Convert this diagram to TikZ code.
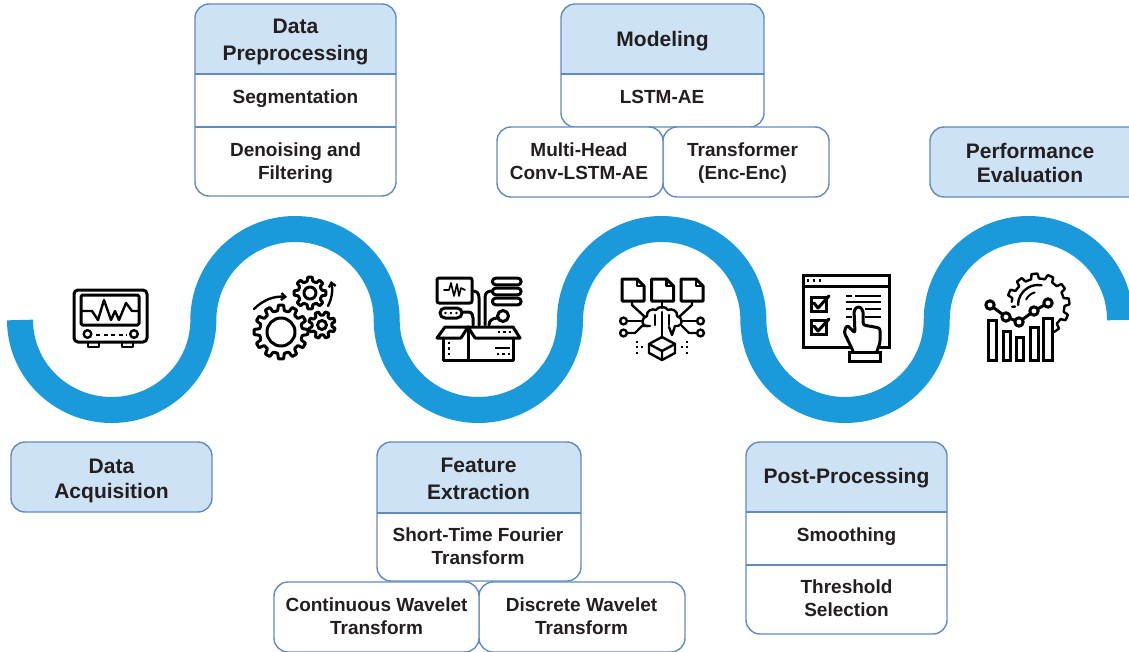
\documentclass[tikz,border=0pt]{standalone}
\usepackage{fontspec}
\usetikzlibrary{arrows.meta}
\setmainfont{Liberation Sans}
\definecolor{ribbon}{HTML}{1A9ADB}
\definecolor{headfill}{HTML}{CDE2F4}
\definecolor{edge}{HTML}{6289C4}
\definecolor{ink}{HTML}{231F20}
\newcommand{\card}[5]{%
  \path[fill=white,rounded corners=14] (#1,#2) rectangle (#3,#4);
  \begin{scope}
    \clip[rounded corners=14] (#1,#2) rectangle (#3,#4);
    \fill[headfill] (#1,#2) rectangle (#3,#5);
  \end{scope}
  \draw[edge,line width=1.4] (#1,#5) -- (#3,#5);
  \draw[edge,line width=1.4,rounded corners=14] (#1,#2) rectangle (#3,#4);
}
\newcommand{\gearshape}[6]{% x y outer root teeth offset
  \begin{scope}[shift={(#1,#2)}]
    \pgfmathsetmacro{\st}{360/#5}
    \draw[icon,fill=white,rounded corners=.6]
      ({#6-.30*\st}:#4)
      \foreach \k in {1,...,#5}{
        -- ({#6+(\k-1)*\st-.18*\st}:#3) -- ({#6+(\k-1)*\st+.18*\st}:#3)
        -- ({#6+(\k-1)*\st+.30*\st}:#4) -- ({#6+\k*\st-.30*\st}:#4)
      } -- cycle;
  \end{scope}
}
\tikzset{
  x=1pt,y=-1pt,
  every node/.style={inner sep=0pt,outer sep=0pt,align=center,text=ink,font=\bfseries},
  headtext/.style={font=\fontsize{21}{27}\selectfont\bfseries},
  subtext/.style={font=\fontsize{19}{23}\selectfont\bfseries},
  plainbox/.style={draw=edge,line width=1.4,fill=white,rounded corners=14},
  headbox/.style={plainbox,fill=headfill},
  band/.style={ribbon,line width=26},
  icon/.style={black,line width=3,line join=round,line cap=round},
  thin icon/.style={black,line width=2.4,line join=round,line cap=round},
  dotted icon/.style={black,line width=2.4,dash pattern=on 2.4 off 3},
}
\begin{document}
\begin{tikzpicture}
\useasboundingbox (0,0) rectangle (1129,652);
% ribbon
\begin{scope}
\clip (0,0) rectangle (1129,652);
\draw[band] (20,320) arc[start angle=180,end angle=0,x radius=91.67,y radius=90]
  arc[start angle=180,end angle=360,x radius=91.67,y radius=91]
  arc[start angle=180,end angle=0,x radius=91.67,y radius=90]
  arc[start angle=180,end angle=360,x radius=91.67,y radius=91]
  arc[start angle=180,end angle=0,x radius=91.67,y radius=90]
  arc[start angle=180,end angle=360,x radius=91.67,y radius=91];
\end{scope}

% Data Preprocessing
\card{195}{4}{396}{196}{74}
\draw[edge,line width=1.4] (195,127) -- (396,127);
\node[headtext] (dp) at (295.5,42.5) {Data\\Preprocessing};
\node[subtext] (seg) at (295.5,99) {Segmentation};
\node[subtext] (den) at (295.5,163) {Denoising and\\Filtering};

% Modeling
\card{561}{4}{764}{127}{74}
\node[headtext] (mod) at (662.5,41) {Modeling};
\node[subtext] (lstm) at (662,97) {LSTM-AE};
\path[plainbox] (663,127) rectangle (829,197);
\path[plainbox] (497,127) rectangle (663,197);
\node[subtext] (mh) at (579,161) {Multi-Head\\Conv-LSTM-AE};
\node[subtext] (tr) at (742.5,163) {Transformer\\(Enc-Enc)};

% Performance
\path[headbox] (930,127) rectangle (1145,197);
\node[headtext,font=\fontsize{21}{24}\selectfont\bfseries] (perf) at (1030,163) {Performance\\Evaluation};

% Data Acquisition
\path[headbox] (11,442) rectangle (212,512);
\node[headtext,font=\fontsize{21}{25}\selectfont\bfseries] (acq) at (111.5,481) {Data\\Acquisition};

% Feature Extraction
\card{377}{442}{581}{581}{513}
\node[headtext] (fe) at (478.5,478.5) {Feature\\Extraction};
\node[subtext] (stft) at (478,546) {Short-Time Fourier\\Transform};
\path[plainbox] (479,582) rectangle (685,652);
\path[plainbox] (274,582) rectangle (479,652);
\node[subtext] (cwt) at (376.5,616) {Continuous Wavelet\\Transform};
\node[subtext] (dwt) at (581.5,616) {Discrete Wavelet\\Transform};

% Post-Processing
\card{746}{442}{947}{634}{512}
\draw[edge,line width=1.4] (746,565) -- (947,565);
\node[headtext] (pp) at (846.5,478) {Post-Processing};
\node[subtext] (smo) at (846.5,537) {Smoothing};
\node[subtext] (thr) at (846.5,598) {Threshold\\Selection};

% --- icon 1: monitor
\draw[icon,rounded corners=4] (74,290) rectangle (147,342);
\draw[icon,rounded corners=1.5] (81,295) rectangle (139,325);
\draw[thin icon] (81,311) -- (92,311) -- (98,320) -- (104,300) -- (111,320) -- (115,311) -- (119,320) -- (126,303) -- (132,311) -- (139,311);
\draw[thin icon] (87.5,334) circle[radius=3.8];
\draw[thin icon] (134,334) circle[radius=3.8];
\draw[thin icon,line cap=butt,dash pattern=on 4 off 3.5] (96,335) -- (127,335);
\draw[thin icon] (88,342) -- (88,347) -- (99,347) -- (99,342);
\draw[thin icon] (122,342) -- (122,347) -- (133,347) -- (133,342);

% --- icon 2: gears
\gearshape{281}{332}{27}{21.5}{12}{0}
\draw[icon] (281,332) circle[radius=14];
\gearshape{310}{293}{16}{12}{8}{0}
\draw[icon] (310,293) circle[radius=6];
\gearshape{322}{325}{13.5}{10}{8}{22}
\draw[icon] (322,325) circle[radius=4.5];
\draw[thin icon,-{Straight Barb[length=4,width=7]}] (254,309) .. controls (264,299) and (275,296) .. (287,297);
\draw[thin icon,-{Straight Barb[length=4,width=7]}] (328,306) .. controls (332,298) and (333,290) .. (331,281);

% --- icon 3: box with data
\draw[icon,rounded corners=2] (437,278) rectangle (472,303);
\draw[thin icon,line width=1.6] (444,290) -- (449,290) -- (451,283) -- (454,296) -- (457,284) -- (459,296) -- (461,288) -- (465,290);
\foreach \yy/\nm in {281.5/a,291.5/b,301.5/c}
  \draw[icon,rounded corners=3] (492.5,\yy-3.3) rectangle (521,\yy+3.3);
\draw[icon,rounded corners=5] (440,308) rectangle (462,318);
\fill (445.5,313) circle[radius=1.4] (451,313) circle[radius=1.4] (456.5,313) circle[radius=1.4];
\draw[icon] (503,316) circle[radius=5.5];
\draw[icon] (472,291) .. controls (477,291) and (479,293) .. (479,298) -- (479,325);
\draw[icon] (492.5,291) .. controls (487,291) and (485,293) .. (485,298) -- (485,325);
\draw[icon] (462,312) -- (468,312) .. controls (472,312) and (473,315) .. (473,318) -- (473,325);
\draw[icon] (497.5,318) .. controls (492,318) and (489,321) .. (489,325);
\draw[icon] (443,338) -- (443,360) -- (513,360) -- (513,338);
\draw[icon] (468,327) -- (468,360);
\draw[icon] (468,327) -- (445,327) -- (437,338) -- (461,338) -- cycle;
\draw[icon] (468,327) -- (513,327) -- (520,338) -- (475,338) -- cycle;
\draw[dotted icon] (449,342) -- (449,357);
\draw[thin icon,line cap=butt] (495,348) -- (510,348);
\draw[dotted icon] (497,354) -- (510,354);
\draw[dotted icon] (498,332) -- (511,332);

% --- icon 4: documents, brain and cube
\foreach \xx/\nm in {622/a,651.5/b,681/c}{
  \draw[icon] (\xx,279) -- (\xx+15,279) -- (\xx+22,286) -- (\xx+22,301) -- (\xx,301) -- cycle;
  \draw[thin icon] (\xx+15,279) -- (\xx+15,286) -- (\xx+22,286);
}
\draw[thin icon] (632,301) -- (632,305) -- (645,317);
\draw[thin icon] (662,301) -- (662,308);
\draw[thin icon] (692,301) -- (692,305) -- (679,317);
\draw[thin icon] (650,326) -- (646,326) .. controls (641,325) and (641,318) .. (647,316)
  .. controls (646,311) and (652,308) .. (656,310) .. controls (658,306) and (666,306) .. (668,310)
  .. controls (672,308) and (678,311) .. (677,316) .. controls (683,318) and (683,325) .. (678,326)
  -- (675,326) -- (672,335) -- (669,327);
\draw[thin icon] (662,312) -- (662,338);
\draw[thin icon] (655,315) -- (655,325);
\draw[thin icon] (669,315) -- (669,325);
\draw[thin icon] (627,321) -- (643,321);
\draw[thin icon] (681,321) -- (697,321);
\draw[thin icon] (627,333) -- (635,333) -- (642,326) -- (648,326);
\draw[thin icon] (697,333) -- (689,333) -- (682,326);
\foreach \xx/\yy/\nm in {623.5/321/a,623.5/333/b,700.5/321/c,700.5/333/d}
  \draw[thin icon] (\xx,\yy) circle[radius=3.4];
\draw[thin icon] (662,337) -- (675,344) -- (675,353) -- (662,360) -- (649,353) -- (649,344) -- cycle;
\draw[thin icon] (649,344) -- (662,351) -- (675,344) (662,351) -- (662,360);
\foreach \xx/\yy/\nm in {637/342/a,637/347/b,637/353/c,642/347/d,687/342/e,687/347/f,687/353/g,682/347/h}
  \fill (\xx-1.1,\yy-1.1) rectangle (\xx+1.1,\yy+1.1);

% --- icon 5: window, checks, hand
\draw[icon,line width=3,line cap=butt,line join=miter] (803,275) rectangle (889,347);
\draw[icon,line width=3,line cap=butt] (803,286) -- (889,286);
\foreach \xx/\nm in {808/a,814/b,820/c}
  \fill (\xx-1.4,280.5-1.4) rectangle (\xx+1.4,280.5+1.4);
\draw[icon,line cap=butt,line join=miter] (811,297) rectangle (826,311);
\draw[icon,line cap=butt,line join=miter] (811,320) rectangle (826,334);
\draw[icon] (814,303) -- (818,308) -- (829,296);
\draw[icon] (814,326) -- (818,331) -- (829,319);
\draw[thin icon,line cap=butt] (846,296) -- (852,296) (855,296) -- (881,296)
  (846,302) -- (881,302) (846,309) -- (852,309) (865,309) -- (881,309)
  (846,317) -- (852,317) (865,317) -- (881,317);
\draw[icon,fill=white,rounded corners=2.5] (853,351) -- (844,332) -- (847,325) -- (855,333) -- (854,310) -- (858.5,306) -- (863,310) -- (863,325) -- (880,328) -- (880,343) -- (877,351);
\draw[icon,fill=white,line cap=butt,line join=miter] (849,352) rectangle (880,361);

% --- icon 6: chart and gear
\begin{scope}[shift={(1038,305)}]
  \draw[thin icon,rounded corners=.5]
    (187:26.5) \foreach \k in {0,...,7}{
      -- ({187+\k*30+8}:26.5) -- ({187+\k*30+11}:31.5) -- ({187+\k*30+22}:31.5) -- ({187+\k*30+25}:26.5) -- ({187+\k*30+30}:26.5)
    };
  \draw[thin icon] (180:20) arc[start angle=180,end angle=280,radius=20];
  \draw[thin icon,line width=2] (205:13) arc[start angle=205,end angle=255,radius=13];
  \draw[thin icon] (176:26) -- (176:23);
\end{scope}
\foreach \xa/\xb/\yt/\nm in {988/996/320/a,1003/1010/331/b,1016/1023/337/c,1030/1038/327/d,1043/1052/318/e}
  \draw[icon,fill=white,line cap=butt,line join=miter] (\xa,360) -- (\xa,\yt) -- (\xb,\yt) -- (\xb,360) -- cycle;
\draw[icon] (990,305) -- (1006,317) -- (1019,322) -- (1034,311) -- (1048,303);
\foreach \xx/\yy/\nm in {990/305/a,1006/317/b,1019/322/c,1034/311/d,1048/303/e}
  \draw[icon,fill=white] (\xx,\yy) circle[radius=4.2];
\end{tikzpicture}
\end{document}
